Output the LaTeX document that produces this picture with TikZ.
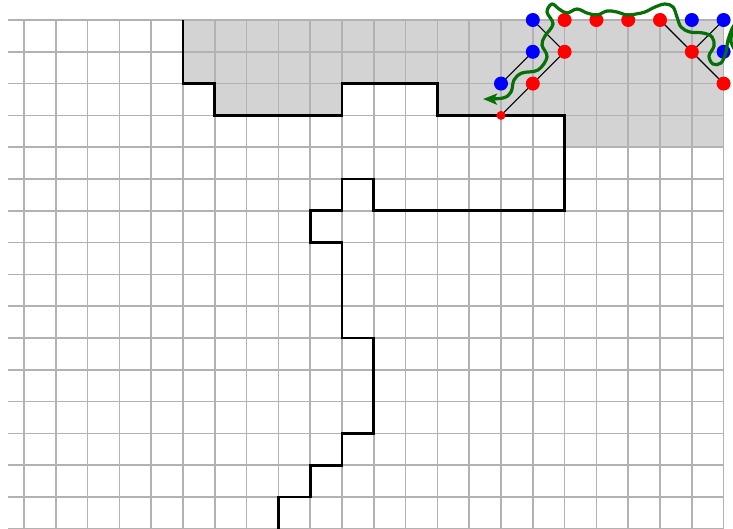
\documentclass[tikz,border=0pt]{standalone}
\usetikzlibrary{arrows.meta}
\definecolor{gridgray}{RGB}{178,178,178}
\definecolor{fillgray}{RGB}{211,211,211}
\definecolor{dkgreen}{RGB}{8,110,8}
\pgfdeclarelayer{front}
\pgfsetlayers{main,front}
\tikzset{
  gridline/.style={draw=gridgray, line width=1.6pt},
  wall/.style={draw=black, line width=2.7pt, line join=miter},
  link/.style={draw=black, line width=1.1pt},
  reddot/.style={circle, fill=red, inner sep=0pt, minimum size=14pt},
  bluedot/.style={circle, fill=blue, inner sep=0pt, minimum size=14pt},
  smallred/.style={circle, fill=red, inner sep=0pt, minimum size=9pt},
  wave/.style={draw=dkgreen, line width=3.2pt, line cap=round, -{Stealth[length=14pt,width=11pt,inset=3pt]}},
}
\begin{document}
\begin{tikzpicture}[x=1pt,y=-1pt]
\useasboundingbox (0,0) rectangle (733,529);
\begin{scope}[shift={(24,20)}, x=31.8pt, y=-31.8pt]
  % shaded region
  \fill[fillgray] (5,0) -- (5,2) -- (6,2) -- (6,3) -- (10,3) -- (10,2) -- (13,2) -- (13,3)
    -- (17,3) -- (17,4) -- (22,4) -- (22,0) -- cycle;
  % grid
  \foreach \i in {0,...,22} \draw[gridline] (\i,0) -- (\i,16.1);
  \foreach \j in {0,...,16} \draw[gridline] (-0.5,\j) -- (22,\j);
  % boundary
  \draw[wall] (5,0) -- (5,2) -- (6,2) -- (6,3) -- (10,3) -- (10,2) -- (13,2) -- (13,3)
    -- (17,3) -- (17,6) -- (11,6) -- (11,5) -- (10,5) -- (10,6) -- (9,6) -- (9,7)
    -- (10,7) -- (10,10) -- (11,10) -- (11,13) -- (10,13) -- (10,14) -- (9,14)
    -- (9,15) -- (8,15) -- (8,16.1);
  % dots (front layer)
  \begin{pgfonlayer}{front}
  \node[bluedot] (b1) at (16,0) {};
  \node[bluedot] (b2) at (16,1) {};
  \node[bluedot] (b3) at (15,2) {};
  \node[bluedot] (b4) at (21,0) {};
  \node[bluedot] (b5) at (22,0) {};
  \node[bluedot] (b6) at (22,1) {};
  \node[reddot] (r1) at (17,0) {};
  \node[reddot] (r2) at (18,0) {};
  \node[reddot] (r3) at (19,0) {};
  \node[reddot] (r4) at (20,0) {};
  \node[reddot] (r5) at (17,1) {};
  \node[reddot] (r6) at (16,2) {};
  \node[reddot] (r7) at (21,1) {};
  \node[reddot] (r8) at (22,2) {};
  \node[smallred] (s1) at (15,3) {};
  \end{pgfonlayer}
\end{scope}
% links between dot centres
\draw[link] (b1.center) -- (r5.center);
\draw[link] (b2.center) -- (b3.center);
\draw[link] (r5.center) -- (r6.center) -- (s1.center);
\draw[link] (r4.center) -- (r7.center) -- (r8.center);
\draw[link] (b5.center) -- (r7.center);
% wavy green arrow
\begin{pgfonlayer}{front}
\draw[wave] plot[smooth, tension=0.6] coordinates {
  (738,54) (731,42) (733,27) (728,40) (726,52) (721,63) (713,64) (709,56)
  (714,46) (712,37) (703,33) (690,32) (681,27) (677,17) (673,7) (665,4)
  (655,7) (645,12) (636,14) (627,15) (617,12) (607,11) (597,15) (587,13)
  (577,9) (567,13) (559,9) (552,4) (547,12) (553,24) (545,36) (542,45)
  (547,57) (538,70) (522,73) (514,80) (511,92) (503,98) (483,99)};
\end{pgfonlayer}
\end{tikzpicture}
\end{document}
